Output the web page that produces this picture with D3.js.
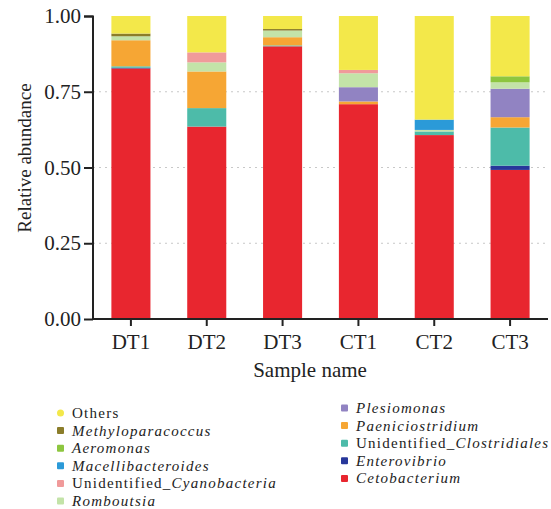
<!DOCTYPE html>
<html>
<head>
<meta charset="utf-8">
<script src="https://cdn.jsdelivr.net/npm/d3@7"></script>
<style>
  body { margin: 0; background: #fff; }
  svg { font-family: "Liberation Serif", "DejaVu Serif", serif; }
  svg text { font-family: "Liberation Serif", "DejaVu Serif", serif; fill: #222; }
</style>
</head>
<body>
<svg id="chart" width="551" height="509"></svg>
<script>
const samples = ["DT1", "DT2", "DT3", "CT1", "CT2", "CT3"];

// stacked bottom -> top
const taxa = ["Cetobacterium", "Enterovibrio", "Unidentified_Clostridiales", "Paeniciostridium", "Plesiomonas",
    "Romboutsia", "Unidentified_Cyanobacteria", "Macellibacteroides", "Aeromonas", "Methyloparacoccus", "Others"];

const taxaColours = ["#e8262f", "#27379a", "#4dbba9", "#f6a634", "#9183c2",
    "#c3e3a8", "#f09a9a", "#2b9ad8", "#8dc63f", "#8b7d2a", "#f3e84a"];

// one array per taxon, values in sample order
const cetobacterium = [0.827, 0.635, 0.900, 0.709, 0.607, 0.492];
const enterovibrio = [0.002, 0.000, 0.000, 0.000, 0.000, 0.014];
const clostridiales = [0.005, 0.061, 0.003, 0.000, 0.012, 0.126];
const paeniciostridium = [0.086, 0.121, 0.027, 0.009, 0.000, 0.034];
const plesiomonas = [0.000, 0.000, 0.000, 0.047, 0.000, 0.094];
const romboutsia = [0.013, 0.030, 0.022, 0.046, 0.005, 0.021];
const cyanobacteria = [0.000, 0.033, 0.000, 0.011, 0.000, 0.000];
const macellibacteroides = [0.000, 0.000, 0.000, 0.000, 0.034, 0.000];
const aeromonas = [0.000, 0.000, 0.000, 0.000, 0.000, 0.020];
const methyloparacoccus = [0.009, 0.000, 0.005, 0.000, 0.000, 0.000];
const others = [0.058, 0.120, 0.043, 0.178, 0.342, 0.199];

const seriesValues = [cetobacterium, enterovibrio, clostridiales, paeniciostridium, plesiomonas,
    romboutsia, cyanobacteria, macellibacteroides, aeromonas, methyloparacoccus, others];

const yTicks = [0, 0.25, 0.5, 0.75, 1];
const gridTicks = [0.25, 0.5, 0.75];

const legendCol1 = ["Others", "Methyloparacoccus", "Aeromonas", "Macellibacteroides", "Unidentified_Cyanobacteria", "Romboutsia"];
const legendCol2 = ["Plesiomonas", "Paeniciostridium", "Unidentified_Clostridiales", "Enterovibrio", "Cetobacterium"];

const rows = samples.map((s, i) => {
    const row = { sample: s };
    taxa.forEach((t, j) => { row[t] = seriesValues[j][i]; });
    return row;
});

const svg = d3.select("#chart");
const margin = { top: 16, left: 93, right: 3, bottom: 190 };
const width = 551 - margin.left - margin.right;
const height = 509 - margin.top - margin.bottom;

const g = svg.append("g").attr("transform", `translate(${margin.left},${margin.top})`);

const xScale = d3.scaleBand().domain(samples).range([0, width]).paddingInner(0.485).paddingOuter(0.2425);
const yScale = d3.scaleLinear().domain([0, 1]).range([height, 0]);

g.selectAll(".grid-line")
    .data(gridTicks)
    .join("line")
    .attr("class", "grid-line")
    .attr("x1", 0).attr("x2", width)
    .attr("y1", d => yScale(d)).attr("y2", d => yScale(d))
    .attr("stroke", "#c8c8c8")
    .attr("stroke-width", 1)
    .attr("stroke-dasharray", "2,4");

const stacked = d3.stack().keys(taxa)(rows);

g.selectAll(".layer")
    .data(stacked)
    .join("g")
    .attr("class", "layer")
    .attr("fill", (d, i) => taxaColours[i])
    .selectAll("rect")
    .data(d => d)
    .join("rect")
    .attr("x", d => xScale(d.data.sample))
    .attr("width", xScale.bandwidth())
    .attr("y", d => yScale(d[1]))
    .attr("height", d => Math.max(0, yScale(d[0]) - yScale(d[1])));

const yAxis = g.append("g")
    .call(d3.axisLeft(yScale).tickValues(yTicks).tickFormat(d3.format(".2f")).tickSize(9).tickPadding(3));
const xAxis = g.append("g")
    .attr("transform", `translate(0,${height})`)
    .call(d3.axisBottom(xScale).tickSize(7).tickPadding(8));

[yAxis, xAxis].forEach(a => {
    a.attr("font-family", null);
    a.select(".domain").attr("stroke", "#222").attr("stroke-width", 2);
    a.selectAll(".tick line").attr("stroke", "#222").attr("stroke-width", 2);
    a.selectAll(".tick text").attr("font-size", 21).style("font-family", "'Liberation Serif', serif").attr("fill", "#222");
});
yAxis.select(".domain").attr("d", `M-9,0.5H0V${height}`);
xAxis.select(".domain").attr("d", `M0,0H${width}`);

g.append("text")
    .attr("transform", `translate(${31 - margin.left},${158 - margin.top}) rotate(-90)`)
    .attr("text-anchor", "middle")
    .attr("font-size", 19)
    .text("Relative abundance");

g.append("text")
    .attr("x", 310 - margin.left)
    .attr("y", 377 - margin.top)
    .attr("text-anchor", "middle")
    .attr("font-size", 21)
    .text("Sample name");

const colourOf = name => taxaColours[taxa.indexOf(name)];

const drawLegend = (items, x0, y0) => {
    const item = svg.append("g").selectAll("g")
        .data(items)
        .join("g")
        .attr("transform", (d, i) => `translate(${x0},${y0 + i * 17.6})`);
    item.append("rect")
        .attr("x", 0).attr("y", -3.5)
        .attr("width", 7).attr("height", 7)
        .attr("rx", d => d === "Others" ? 3.5 : 1)
        .attr("fill", colourOf);
    const label = item.append("text")
        .attr("x", 15).attr("y", 5)
        .attr("font-size", 15)
        .attr("letter-spacing", 1.25);
    label.each(function(d) {
        const t = d3.select(this);
        if (d.startsWith("Unidentified_")) {
            t.append("tspan").text("Unidentified_");
            t.append("tspan").attr("font-style", "italic").text(d.slice(13));
        } else if (d === "Others") {
            t.text(d);
        } else {
            t.append("tspan").attr("font-style", "italic").text(d);
        }
    });
};

drawLegend(legendCol1, 57, 413);
drawLegend(legendCol2, 341, 408);
</script>
</body>
</html>
